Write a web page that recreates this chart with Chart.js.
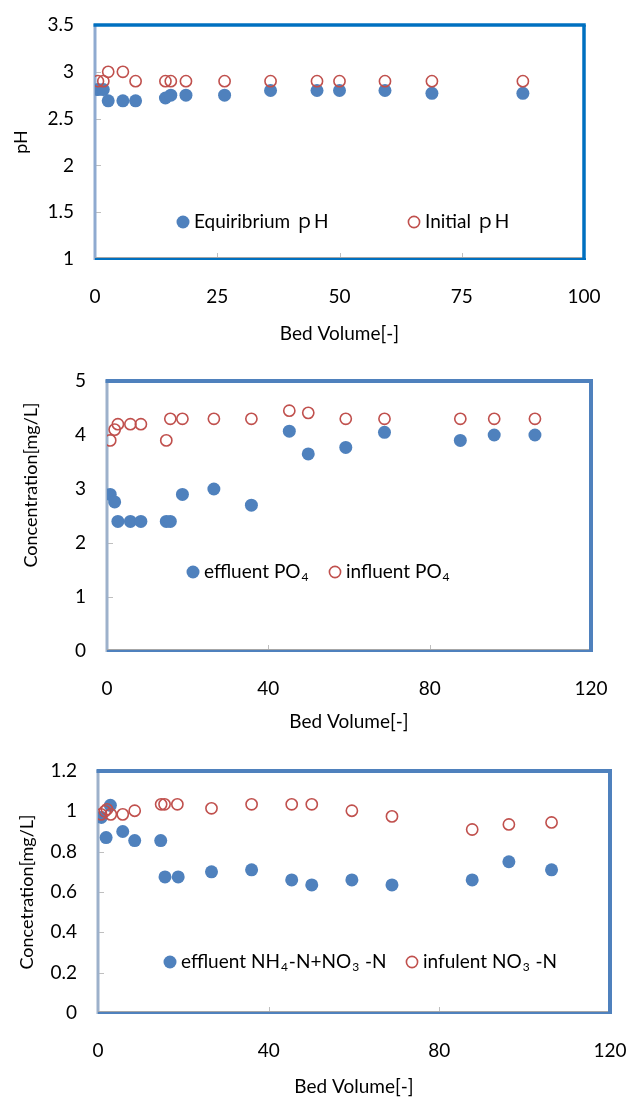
<!DOCTYPE html>
<html lang="en">
<head>
    <meta charset="UTF-8">
    <title>Bed Volume charts</title>
    <script src="https://cdn.jsdelivr.net/npm/chart.js"></script>
    <style>
        body { margin: 0; background: #fff; width: 628px; height: 1103px; position: relative; overflow: hidden; }
        canvas { position: absolute; left: 0; }
    </style>
</head>
<body>
    <canvas id="phChart" width="628" height="355" style="top:0px"></canvas>
    <canvas id="po4Chart" width="628" height="380" style="top:355px"></canvas>
    <canvas id="nChart" width="628" height="368" style="top:735px"></canvas>

    <script>
        // pH chart
        const phBedVolume = [0.6, 1.7, 2.7, 5.7, 8.3, 14.4, 15.5, 18.6, 26.5, 35.9, 45.4, 50.0, 59.3, 68.9, 87.5];
        const phEquilibrium = [2.81, 2.81, 2.69, 2.69, 2.69, 2.72, 2.75, 2.75, 2.75, 2.80, 2.80, 2.80, 2.80, 2.77, 2.77];
        const phInitial = [2.9, 2.9, 3.0, 3.0, 2.9, 2.9, 2.9, 2.9, 2.9, 2.9, 2.9, 2.9, 2.9, 2.9, 2.9];
        const phXTicks = [0, 25, 50, 75, 100];
        const phYTicks = [1, 1.5, 2, 2.5, 3, 3.5];

        // PO4 chart
        const po4BedVolume = [0.8, 1.9, 2.7, 5.8, 8.4, 14.7, 15.7, 18.7, 26.5, 35.8, 45.2, 49.9, 59.2, 68.8, 87.6, 96.0, 106.1];
        const po4Effluent = [2.9, 2.76, 2.4, 2.4, 2.4, 2.4, 2.4, 2.9, 3.0, 2.7, 4.07, 3.65, 3.77, 4.05, 3.9, 4.0, 4.0];
        const po4Influent = [3.9, 4.1, 4.2, 4.2, 4.2, 3.9, 4.3, 4.3, 4.3, 4.3, 4.45, 4.41, 4.3, 4.3, 4.3, 4.3, 4.3];
        const po4XTicks = [0, 40, 80, 120];
        const po4YTicks = [0, 1, 2, 3, 4, 5];

        // nitrogen chart
        const nEffBedVolume = [0.75, 1.9, 2.9, 5.8, 8.6, 14.7, 15.7, 18.8, 26.6, 36.0, 45.4, 50.1, 59.5, 68.9, 87.7, 96.3, 106.3];
        const nEffluent = [0.97, 0.87, 1.03, 0.90, 0.855, 0.855, 0.675, 0.675, 0.70, 0.71, 0.66, 0.635, 0.66, 0.635, 0.66, 0.75, 0.71];
        const nInfBedVolume = [0.7, 1.6, 2.1, 3.0, 5.8, 8.6, 14.8, 15.6, 18.6, 26.6, 36.0, 45.4, 50.1, 59.5, 68.9, 87.7, 96.3, 106.3];
        const nInfluent = [0.985, 1.0, 1.01, 0.985, 0.985, 1.003, 1.035, 1.035, 1.035, 1.015, 1.035, 1.035, 1.035, 1.003, 0.975, 0.91, 0.935, 0.945];
        const nXTicks = [0, 40, 80, 120];
        const nYTicks = [0, 0.2, 0.4, 0.6, 0.8, 1, 1.2];

        const BLUE = '#4F81BD';
        const RED = '#C0504D';
        const FONT = "Lato, 'Noto Sans CJK JP', sans-serif";
        const W = 628;
        const TICK_SIZE = 19;
        const TITLE_SIZE = 18;
        const LEGEND_SIZE = 19;

        Chart.defaults.font.family = FONT;
        Chart.defaults.color = '#000';

        function toPoints(xs, ys) {
            return xs.map((x, i) => ({ x: x, y: ys[i] }));
        }

        // frame, inner tick marks, legend and y title
        const decorPlugin = {
            id: 'decor',
            beforeDatasetsDraw(chart, args, o) {
                const { ctx, chartArea: a, scales } = chart;
                ctx.save();
                const line = (x1, y1, x2, y2) => { ctx.beginPath(); ctx.moveTo(x1, y1); ctx.lineTo(x2, y2); ctx.stroke(); };

                ctx.strokeStyle = '#BFBFBF';
                ctx.lineWidth = 1;
                scales.y.ticks.forEach(t => {
                    const y = Math.round(scales.y.getPixelForValue(t.value)) + 0.5;
                    line(a.left, y, a.left + 6, y);
                });
                scales.x.ticks.forEach(t => {
                    const x = Math.round(scales.x.getPixelForValue(t.value)) + 0.5;
                    line(x, a.bottom, x, a.bottom - 6);
                });

                // left side
                ctx.strokeStyle = o.sideColor;
                ctx.lineWidth = 3;
                line(a.left, a.top - 1, a.left, a.bottom + 1);
                // bottom
                ctx.strokeStyle = '#A6A6A6';
                ctx.lineWidth = 1;
                line(a.left, a.bottom - 1.5, a.right, a.bottom - 1.5);
                ctx.strokeStyle = o.color;
                ctx.lineWidth = 2;
                line(a.left, a.bottom, a.right + 2, a.bottom);
                // top and right, heavier
                ctx.lineWidth = o.heavy;
                line(a.left - 1.5, a.top, a.right + o.heavy / 2, a.top);
                line(a.right, a.top, a.right, a.bottom + 1);
                ctx.restore();
            },
            afterDraw(chart, args, o) {
                const { ctx } = chart;
                ctx.save();
                ctx.fillStyle = '#000';
                ctx.textBaseline = 'middle';

                // y axis title
                ctx.save();
                ctx.translate(o.yTitle.x, o.yTitle.y);
                ctx.rotate(-Math.PI / 2);
                ctx.textAlign = 'center';
                ctx.font = TITLE_SIZE + 'px ' + FONT;
                ctx.fillText(o.yTitle.text, 0, 0);
                ctx.restore();

                // legend
                ctx.textAlign = 'left';
                o.legend.forEach(item => {
                    ctx.beginPath();
                    if (item.filled) {
                        ctx.fillStyle = BLUE;
                        ctx.arc(item.x, item.y, 6.5, 0, Math.PI * 2);
                        ctx.fill();
                    } else {
                        ctx.strokeStyle = RED;
                        ctx.lineWidth = 1.6;
                        ctx.arc(item.x, item.y, 5.6, 0, Math.PI * 2);
                        ctx.stroke();
                    }
                    ctx.fillStyle = '#000';
                    let x = item.x + 11;
                    item.parts.forEach(p => {
                        if (p.sub) {
                            ctx.font = Math.round(LEGEND_SIZE * 0.65) + 'px ' + FONT;
                            ctx.fillText(p.t, x + 1, item.y + 5);
                            x += ctx.measureText(p.t).width + 2;
                        } else {
                            ctx.font = LEGEND_SIZE + 'px ' + FONT;
                            ctx.fillText(p.t, x, item.y);
                            x += ctx.measureText(p.t).width;
                        }
                    });
                });
                ctx.restore();
            }
        };

        function makeChart(id, c) {
            const xAxisH = c.xTitleY - c.area.bottom + 10;
            return new Chart(document.getElementById(id), {
                type: 'scatter',
                data: {
                    datasets: [
                        {
                            data: c.red,
                            order: 1,
                            pointRadius: 5.6,
                            pointBorderWidth: 1.6,
                            pointBorderColor: RED,
                            pointBackgroundColor: 'rgba(0,0,0,0)'
                        },
                        {
                            data: c.blue,
                            order: 2,
                            pointRadius: 6.5,
                            pointBorderWidth: 0,
                            pointBackgroundColor: BLUE
                        }
                    ]
                },
                options: {
                    responsive: false,
                    animation: false,
                    events: [],
                    layout: {
                        padding: {
                            left: 0,
                            right: W - c.area.right,
                            top: c.area.top,
                            bottom: c.height - c.area.bottom - xAxisH
                        }
                    },
                    plugins: {
                        legend: { display: false },
                        tooltip: { enabled: false },
                        decor: {
                            color: c.frameColor,
                            sideColor: c.sideColor,
                            heavy: c.heavy,
                            yTitle: c.yTitle,
                            legend: c.legend
                        }
                    },
                    scales: {
                        x: {
                            type: 'linear',
                            min: c.xTicks[0],
                            max: c.xTicks[c.xTicks.length - 1],
                            afterBuildTicks: s => { s.ticks = c.xTicks.map(v => ({ value: v })); },
                            afterFit: s => { s.height = xAxisH; s.paddingLeft = 0; s.paddingRight = 0; },
                            grid: { display: false, drawTicks: false },
                            border: { display: false },
                            ticks: { padding: 26, maxRotation: 0, autoSkip: false, font: { size: TICK_SIZE }, callback: v => String(v) },
                            title: { display: true, text: 'Bed Volume[-]', padding: 0, font: { size: TICK_SIZE } }
                        },
                        y: {
                            type: 'linear',
                            min: c.yTicks[0],
                            max: c.yTicks[c.yTicks.length - 1],
                            afterBuildTicks: s => { s.ticks = c.yTicks.map(v => ({ value: v })); },
                            afterFit: s => { s.width = c.area.left; s.paddingTop = 0; s.paddingBottom = 0; },
                            grid: { display: false, drawTicks: false },
                            border: { display: false },
                            ticks: { padding: 21, autoSkip: false, font: { size: TICK_SIZE }, callback: v => String(v) }
                        }
                    }
                },
                plugins: [decorPlugin]
            });
        }

        makeChart('phChart', {
            height: 355,
            area: { left: 95, right: 584, top: 25, bottom: 259 },
            xTitleY: 335,
            xTicks: phXTicks,
            yTicks: phYTicks,
            blue: toPoints(phBedVolume, phEquilibrium),
            red: toPoints(phBedVolume, phInitial),
            frameColor: '#0070C0',
            sideColor: '#8FAAD0',
            heavy: 3.5,
            yTitle: { text: 'pH', x: 21, y: 142 },
            legend: [
                { filled: true, x: 183, y: 222, parts: [{ t: 'Equiribrium ｐH' }] },
                { filled: false, x: 414, y: 222, parts: [{ t: 'Initial ｐH' }] }
            ]
        });

        makeChart('po4Chart', {
            height: 380,
            area: { left: 107, right: 591, top: 26, bottom: 296 },
            xTitleY: 368,
            xTicks: po4XTicks,
            yTicks: po4YTicks,
            blue: toPoints(po4BedVolume, po4Effluent),
            red: toPoints(po4BedVolume, po4Influent),
            frameColor: BLUE,
            sideColor: '#9DB1CB',
            heavy: 4,
            yTitle: { text: 'Concentration[mg/L]', x: 31, y: 130 },
            legend: [
                { filled: true, x: 193, y: 217, parts: [{ t: 'effluent PO' }, { t: '4', sub: true }] },
                { filled: false, x: 335, y: 217, parts: [{ t: 'influent PO' }, { t: '4', sub: true }] }
            ]
        });

        makeChart('nChart', {
            height: 368,
            area: { left: 98, right: 610, top: 36, bottom: 278 },
            xTitleY: 353,
            xTicks: nXTicks,
            yTicks: nYTicks,
            blue: toPoints(nEffBedVolume, nEffluent),
            red: toPoints(nInfBedVolume, nInfluent),
            frameColor: BLUE,
            sideColor: '#9DB1CB',
            heavy: 4,
            yTitle: { text: 'Concetration[mg/L]', x: 27, y: 157 },
            legend: [
                { filled: true, x: 170, y: 227, parts: [{ t: 'effluent NH' }, { t: '4', sub: true }, { t: '-N+NO' }, { t: '3', sub: true }, { t: ' -N' }] },
                { filled: false, x: 412, y: 227, parts: [{ t: 'infulent NO' }, { t: '3', sub: true }, { t: ' -N' }] }
            ]
        });
    </script>
</body>
</html>
